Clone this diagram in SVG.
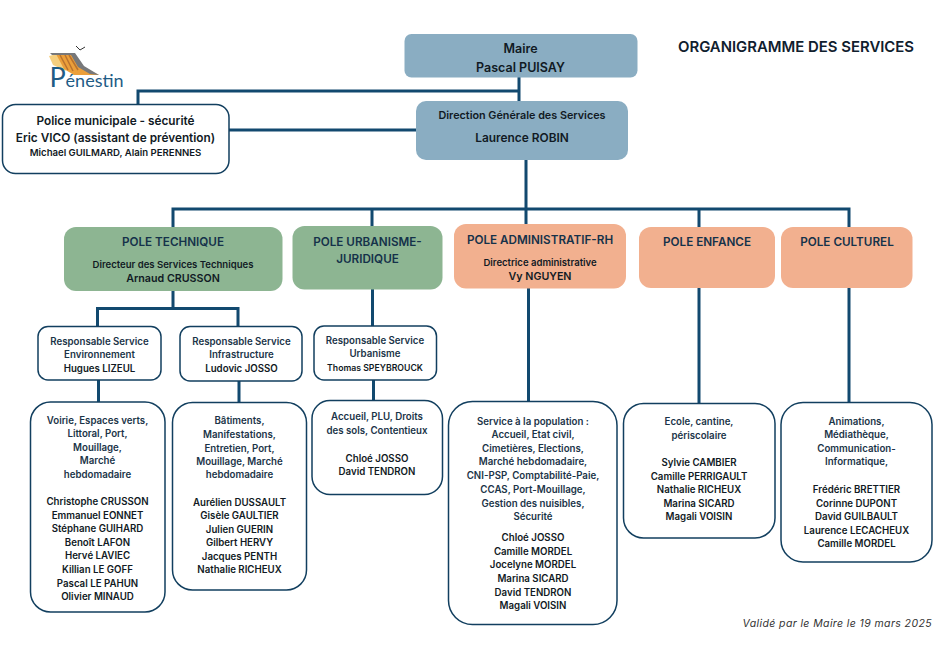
<svg xmlns="http://www.w3.org/2000/svg" width="940" height="651" viewBox="0 0 940 651">
<style>
text{font-family:Inter,"Liberation Sans",sans-serif;text-anchor:middle;font-weight:600;fill:#111a24}
.blue{fill:#8aadc2}
.green{fill:#8db592}
.orange{fill:#f2b08f}
.white{fill:#fff;stroke:#123f5f;stroke-width:1.5}
.c{fill:none;stroke:#12496f;stroke-width:3}
.s{font-size:9.7px;fill:#1b3448;transform:translateY(-.5px)}
.n{font-size:9.7px;transform:translateY(-.5px)}
.p{font-size:11.7px;fill:#15324a}
</style>
<rect width="940" height="651" fill="#fff"/>
<g id="connectors" class="c">
<path d="M138 104V91H519M519 77V101M229 130H416"/>
<path d="M526 155V209M173 227V209H849V227M372 209V227M526 209V225M699 209V227"/>
<path d="M173 291V308.500M97.500 326V308.500H238V326M98.500 380V402M239 381V403"/>
<path d="M372.500 289V326M373.500 380V401M528.500 288V402M699 285V404M849 288V403"/>
</g>
<g id="logo">
<path d="M49 56L57 54L66 71L53 65Z" fill="#f6cf7e"/>
<path d="M56 54H74L82 67L99 75L74 75L64 69Z" fill="#eb9f3a"/>
<path d="M60 55L68 70M65 55L73 71M69 55L78 70" stroke="#b9722e" stroke-width="1.500" fill="none"/>
<path d="M50 53H75L84 66L99 75L90 74L78 67L71 55H52Z" fill="#77787a"/>
<path d="M76 46L80 50L85 47" fill="none" stroke="#333" stroke-width="1"/>
<text x="86.500" y="86.500" style="font-size:18px;font-weight:400;fill:#1f5c86;font-family:Lato,sans-serif"><tspan style="font-size:27px">P</tspan>énestin</text>
</g>
<g id="title"><text x="796" y="52" style="font-size:14.900px;fill:#10202e">ORGANIGRAMME DES SERVICES</text></g>
<g id="maire"><rect class="blue" x="404.500" y="34" width="233" height="43.500" rx="7"/>
<text x="520.500" y="53" style="font-size:12.500px">Maire</text><text x="520.500" y="71.500" style="font-size:12.500px">Pascal PUISAY</text></g>
<g id="dgs"><rect class="blue" x="416" y="101" width="212" height="59" rx="10"/>
<text x="522" y="119" style="font-size:10.800px">Direction Générale des Services</text><text x="522" y="142" style="font-size:11.900px">Laurence ROBIN</text></g>
<g id="police"><rect class="white" x="2.500" y="104.500" width="226.500" height="69" rx="13"/>
<text x="115.500" y="125" style="font-size:11.800px">Police municipale - sécurité</text><text x="115.500" y="141.500" style="font-size:11.800px">Eric VICO (assistant de prévention)</text><text x="115.500" y="156" style="font-size:9.600px">Michael GUILMARD, Alain PERENNES</text></g>
<g id="pole-technique"><rect class="green" x="64" y="227" width="218.500" height="64" rx="12"/>
<text class="p" x="173" y="246">POLE TECHNIQUE</text><text x="173" y="268" style="font-size:9.550px">Directeur des Services Techniques</text><text x="173" y="282" style="font-size:10.700px">Arnaud CRUSSON</text></g>
<g id="pole-urbanisme"><rect class="green" x="292.500" y="226" width="150" height="63.500" rx="12"/>
<text class="p" x="367.500" y="245.500">POLE URBANISME-</text><text class="p" x="367.500" y="262.500">JURIDIQUE</text></g>
<g id="pole-admin"><rect class="orange" x="454" y="224" width="172" height="64.500" rx="12"/>
<text class="p" x="540" y="244">POLE ADMINISTRATIF-RH</text><text x="540" y="266" style="font-size:9.550px">Directrice administrative</text><text x="540" y="280" style="font-size:10.700px">Vy NGUYEN</text></g>
<g id="pole-enfance"><rect class="orange" x="639" y="227" width="136" height="61" rx="12"/><text class="p" x="707" y="246">POLE ENFANCE</text></g>
<g id="pole-culturel"><rect class="orange" x="781" y="227" width="131.500" height="61" rx="12"/><text class="p" x="847" y="246">POLE CULTUREL</text></g>
<g id="resp-env"><rect class="white" x="38" y="326.500" width="123" height="53.500" rx="10"/>
<text class="s" x="99.500" y="345">Responsable Service</text><text class="s" x="99.500" y="358">Environnement</text><text class="n" x="99.500" y="372">Hugues LIZEUL</text></g>
<g id="resp-infra"><rect class="white" x="180" y="326.500" width="122" height="54.500" rx="10"/>
<text class="s" x="241.500" y="345">Responsable Service</text><text class="s" x="241.500" y="358">Infrastructure</text><text class="n" x="241.500" y="372">Ludovic JOSSO</text></g>
<g id="resp-urba"><rect class="white" x="314" y="326" width="122.500" height="54" rx="10"/>
<text class="s" x="375" y="344">Responsable Service</text><text class="s" x="375" y="357">Urbanisme</text><text x="375" y="371" style="font-size:8.700px">Thomas SPEYBROUCK</text></g>
<g id="voirie"><rect class="white" x="30.500" y="402" width="134.500" height="210" rx="20"/>
<text class="s" x="97.500" y="424">Voirie, Espaces verts,</text><text class="s" x="97.500" y="437.500">Littoral, Port,</text><text class="s" x="97.500" y="451">Mouillage,</text><text class="s" x="97.500" y="464">Marché</text><text class="s" x="97.500" y="478">hebdomadaire</text>
<text class="n" x="97.500" y="505">Christophe CRUSSON</text><text class="n" x="97.500" y="519">Emmanuel EONNET</text><text class="n" x="97.500" y="532">Stéphane GUIHARD</text><text class="n" x="97.500" y="546">Benoît LAFON</text><text class="n" x="97.500" y="559">Hervé LAVIEC</text><text class="n" x="97.500" y="573">Killian LE GOFF</text><text class="n" x="97.500" y="587">Pascal LE PAHUN</text><text class="n" x="97.500" y="600">Olivier MINAUD</text></g>
<g id="batiments"><rect class="white" x="172.500" y="402.500" width="134" height="187.500" rx="20"/>
<text class="s" x="239.500" y="424.500">Bâtiments,</text><text class="s" x="239.500" y="438">Manifestations,</text><text class="s" x="239.500" y="452">Entretien, Port,</text><text class="s" x="239.500" y="465">Mouillage, Marché</text><text class="s" x="239.500" y="478.500">hebdomadaire</text>
<text class="n" x="239.500" y="506">Aurélien DUSSAULT</text><text class="n" x="239.500" y="519.500">Gisèle GAULTIER</text><text class="n" x="239.500" y="533">Julien GUERIN</text><text class="n" x="239.500" y="546.500">Gilbert HERVY</text><text class="n" x="239.500" y="560">Jacques PENTH</text><text class="n" x="239.500" y="573.500">Nathalie RICHEUX</text></g>
<g id="accueil"><rect class="white" x="312" y="400.500" width="130.500" height="94" rx="18"/>
<text class="s" x="377" y="420.500">Accueil, PLU, Droits</text><text class="s" x="377" y="434.500">des sols, Contentieux</text><text class="n" x="377" y="462">Chloé JOSSO</text><text class="n" x="377" y="475.500">David TENDRON</text></g>
<g id="service"><rect class="white" x="448.500" y="401.500" width="168.500" height="223" rx="24"/>
<text class="s" x="533" y="425">Service à la population :</text><text class="s" x="533" y="438.500">Accueil, Etat civil,</text><text class="s" x="533" y="452">Cimetières, Elections,</text><text class="s" x="533" y="465.500">Marché hebdomadaire,</text><text class="s" x="533" y="479.500">CNI-PSP, Comptabilité-Paie,</text><text class="s" x="533" y="493">CCAS, Port-Mouillage,</text><text class="s" x="533" y="507">Gestion des nuisibles,</text><text class="s" x="533" y="520.500">Sécurité</text>
<text class="n" x="533" y="541">Chloé JOSSO</text><text class="n" x="533" y="555">Camille  MORDEL</text><text class="n" x="533" y="568.500">Jocelyne MORDEL</text><text class="n" x="533" y="582">Marina SICARD</text><text class="n" x="533" y="596">David TENDRON</text><text class="n" x="533" y="609">Magali VOISIN</text></g>
<g id="ecole"><rect class="white" x="623.500" y="403.500" width="151.500" height="134.500" rx="20"/>
<text class="s" x="699" y="425.500">Ecole, cantine,</text><text class="s" x="699" y="439.500">périscolaire</text><text class="n" x="699" y="466">Sylvie CAMBIER</text><text class="n" x="699" y="480">Camille PERRIGAULT</text><text class="n" x="699" y="493.500">Nathalie RICHEUX</text><text class="n" x="699" y="507">Marina SICARD</text><text class="n" x="699" y="520.500">Magali VOISIN</text></g>
<g id="animations"><rect class="white" x="781" y="402.500" width="151" height="159.500" rx="22"/>
<text class="s" x="856.500" y="425">Animations,</text><text class="s" x="856.500" y="438.500">Médiathèque,</text><text class="s" x="856.500" y="452">Communication-</text><text class="s" x="856.500" y="465.500">Informatique,</text><text class="n" x="856.500" y="493">Frédéric BRETTIER</text><text class="n" x="856.500" y="507">Corinne DUPONT</text><text class="n" x="856.500" y="520">David GUILBAULT</text><text class="n" x="856.500" y="534">Laurence LECACHEUX</text><text class="n" x="856.500" y="547.500">Camille MORDEL</text></g>
<g id="footer"><text x="932" y="627" style="text-anchor:end;font-size:10.500px;font-weight:400;font-style:italic;fill:#333;letter-spacing:.4px">Validé par le Maire le 19 mars 2025</text></g>
</svg>
